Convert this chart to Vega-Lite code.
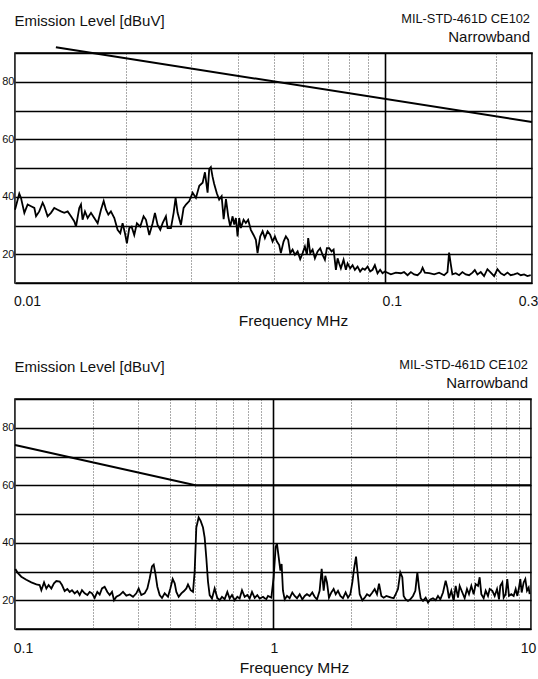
{
  "$schema": "https://vega.github.io/schema/vega-lite/v6.json",
  "background": "white",
  "padding": {"left": 0, "top": 12, "right": 0, "bottom": 0},
  "spacing": 28,
  "datasets": {
    "trace_low": [
      {"freq": 0.0100, "level": 35.5}, {"freq": 0.01027, "level": 41.1}, {"freq": 0.01038, "level": 39.6}, {"freq": 0.0106, "level": 34.4},
      {"freq": 0.01082, "level": 37.3}, {"freq": 0.01105, "level": 36.7}, {"freq": 0.01128, "level": 36.1}, {"freq": 0.0114, "level": 33.2},
      {"freq": 0.01163, "level": 34.9}, {"freq": 0.01188, "level": 37.9}, {"freq": 0.012, "level": 36.7}, {"freq": 0.01225, "level": 33.2},
      {"freq": 0.01251, "level": 34.4}, {"freq": 0.01277, "level": 36.1}, {"freq": 0.01304, "level": 35.5}, {"freq": 0.01331, "level": 34.9},
      {"freq": 0.01359, "level": 34.4}, {"freq": 0.01388, "level": 34.9}, {"freq": 0.01417, "level": 33.2}, {"freq": 0.01447, "level": 31.4},
      {"freq": 0.01462, "level": 29.6}, {"freq": 0.01492, "level": 36.1}, {"freq": 0.01508, "level": 37.3}, {"freq": 0.01523, "level": 32.0},
      {"freq": 0.01546, "level": 34.9}, {"freq": 0.01572, "level": 32.6}, {"freq": 0.01605, "level": 34.4}, {"freq": 0.01638, "level": 32.6},
      {"freq": 0.01673, "level": 30.8}, {"freq": 0.01708, "level": 35.5}, {"freq": 0.01737, "level": 38.5}, {"freq": 0.01762, "level": 35.5},
      {"freq": 0.01788, "level": 33.8}, {"freq": 0.01817, "level": 34.9}, {"freq": 0.01856, "level": 32.6}, {"freq": 0.01894, "level": 28.5},
      {"freq": 0.01926, "level": 27.3}, {"freq": 0.01954, "level": 30.8}, {"freq": 0.01983, "level": 27.3}, {"freq": 0.02007, "level": 23.8},
      {"freq": 0.02037, "level": 29.1}, {"freq": 0.02067, "level": 29.6}, {"freq": 0.02101, "level": 26.7}, {"freq": 0.02136, "level": 30.8},
      {"freq": 0.02181, "level": 29.6}, {"freq": 0.02227, "level": 33.2}, {"freq": 0.0226, "level": 32.0}, {"freq": 0.02307, "level": 26.7},
      {"freq": 0.02356, "level": 30.8}, {"freq": 0.0239, "level": 34.4}, {"freq": 0.0243, "level": 30.2}, {"freq": 0.02471, "level": 28.5},
      {"freq": 0.02507, "level": 30.8}, {"freq": 0.02559, "level": 33.2}, {"freq": 0.02586, "level": 29.1}, {"freq": 0.0264, "level": 29.1},
      {"freq": 0.02685, "level": 34.4}, {"freq": 0.02718, "level": 39.6}, {"freq": 0.02752, "level": 34.4}, {"freq": 0.0281, "level": 30.2},
      {"freq": 0.02857, "level": 36.1}, {"freq": 0.02899, "level": 37.3}, {"freq": 0.0296, "level": 38.5}, {"freq": 0.03022, "level": 41.4},
      {"freq": 0.03085, "level": 39.6}, {"freq": 0.0315, "level": 43.8}, {"freq": 0.03216, "level": 44.9}, {"freq": 0.03263, "level": 48.5},
      {"freq": 0.03317, "level": 41.4}, {"freq": 0.03351, "level": 49.6}, {"freq": 0.03385, "level": 50.3}, {"freq": 0.03421, "level": 47.0},
      {"freq": 0.03455, "level": 44.5}, {"freq": 0.03513, "level": 41.2}, {"freq": 0.03565, "level": 39.0}, {"freq": 0.0362, "level": 40.2},
      {"freq": 0.03666, "level": 32.2}, {"freq": 0.03719, "level": 39.2}, {"freq": 0.03772, "level": 33.2}, {"freq": 0.03819, "level": 29.6},
      {"freq": 0.03876, "level": 33.2}, {"freq": 0.03915, "level": 30.3}, {"freq": 0.03956, "level": 32.6}, {"freq": 0.03998, "level": 26.2},
      {"freq": 0.04038, "level": 32.6}, {"freq": 0.04081, "level": 29.1}, {"freq": 0.0415, "level": 32.0}, {"freq": 0.04209, "level": 30.9},
      {"freq": 0.0427, "level": 32.0}, {"freq": 0.04342, "level": 28.5}, {"freq": 0.04416, "level": 26.7}, {"freq": 0.0448, "level": 25.0},
      {"freq": 0.04527, "level": 20.4}, {"freq": 0.04603, "level": 26.2}, {"freq": 0.04672, "level": 28.0}, {"freq": 0.04739, "level": 25.6},
      {"freq": 0.04819, "level": 28.0}, {"freq": 0.04897, "level": 26.8}, {"freq": 0.04971, "level": 24.4}, {"freq": 0.05043, "level": 26.2},
      {"freq": 0.05107, "level": 24.4}, {"freq": 0.0518, "level": 23.2}, {"freq": 0.05235, "level": 20.4}, {"freq": 0.05323, "level": 24.4},
      {"freq": 0.054, "level": 26.2}, {"freq": 0.05478, "level": 25.0}, {"freq": 0.05548, "level": 20.4}, {"freq": 0.05631, "level": 21.6},
      {"freq": 0.05713, "level": 19.8}, {"freq": 0.0581, "level": 21.0}, {"freq": 0.05904, "level": 18.3}, {"freq": 0.05994, "level": 20.4},
      {"freq": 0.0608, "level": 22.7}, {"freq": 0.06156, "level": 19.8}, {"freq": 0.06206, "level": 25.6}, {"freq": 0.06284, "level": 20.4},
      {"freq": 0.06378, "level": 21.6}, {"freq": 0.0647, "level": 18.6}, {"freq": 0.0658, "level": 21.0}, {"freq": 0.06687, "level": 22.1},
      {"freq": 0.06788, "level": 19.8}, {"freq": 0.06886, "level": 18.1}, {"freq": 0.06972, "level": 22.1}, {"freq": 0.07073, "level": 22.1},
      {"freq": 0.07178, "level": 21.0}, {"freq": 0.07269, "level": 21.6}, {"freq": 0.07374, "level": 14.6}, {"freq": 0.07452, "level": 18.6},
      {"freq": 0.07526, "level": 16.8}, {"freq": 0.07606, "level": 15.1}, {"freq": 0.07735, "level": 18.1}, {"freq": 0.07846, "level": 14.6},
      {"freq": 0.0793, "level": 16.8}, {"freq": 0.08059, "level": 15.1}, {"freq": 0.08181, "level": 16.2}, {"freq": 0.08298, "level": 14.6},
      {"freq": 0.08438, "level": 15.7}, {"freq": 0.08575, "level": 14.0}, {"freq": 0.08705, "level": 15.1}, {"freq": 0.0883, "level": 14.6},
      {"freq": 0.08981, "level": 15.7}, {"freq": 0.09128, "level": 14.0}, {"freq": 0.09265, "level": 14.6}, {"freq": 0.09398, "level": 16.2},
      {"freq": 0.09557, "level": 13.4}, {"freq": 0.09712, "level": 14.6}, {"freq": 0.09858, "level": 13.4}, {"freq": 0.1, "level": 14.0},
      {"freq": 0.1038, "level": 13.0}, {"freq": 0.1071, "level": 13.6}, {"freq": 0.1105, "level": 13.4}, {"freq": 0.1127, "level": 13.8},
      {"freq": 0.1152, "level": 12.7}, {"freq": 0.1176, "level": 13.8}, {"freq": 0.12, "level": 13.0}, {"freq": 0.1226, "level": 12.7},
      {"freq": 0.1251, "level": 13.8}, {"freq": 0.1265, "level": 15.3}, {"freq": 0.1283, "level": 13.6}, {"freq": 0.1318, "level": 13.4},
      {"freq": 0.136, "level": 13.0}, {"freq": 0.1402, "level": 13.6}, {"freq": 0.1447, "level": 12.7}, {"freq": 0.1477, "level": 13.8},
      {"freq": 0.1492, "level": 20.6}, {"freq": 0.1508, "level": 16.5}, {"freq": 0.1523, "level": 13.0}, {"freq": 0.1555, "level": 13.4},
      {"freq": 0.1588, "level": 12.7}, {"freq": 0.1621, "level": 13.8}, {"freq": 0.1655, "level": 13.0}, {"freq": 0.169, "level": 12.7},
      {"freq": 0.1726, "level": 13.6}, {"freq": 0.1751, "level": 14.5}, {"freq": 0.178, "level": 13.0}, {"freq": 0.1817, "level": 13.8},
      {"freq": 0.1855, "level": 12.4}, {"freq": 0.1894, "level": 14.8}, {"freq": 0.1934, "level": 13.6}, {"freq": 0.1975, "level": 12.4},
      {"freq": 0.2016, "level": 14.8}, {"freq": 0.2059, "level": 13.4}, {"freq": 0.2102, "level": 12.7}, {"freq": 0.2146, "level": 13.6},
      {"freq": 0.219, "level": 12.7}, {"freq": 0.2236, "level": 13.0}, {"freq": 0.2284, "level": 13.4}, {"freq": 0.2331, "level": 12.7},
      {"freq": 0.238, "level": 13.0}, {"freq": 0.243, "level": 12.4}, {"freq": 0.248, "level": 12.7}
    ],
    "trace_high": [
      {"freq": 0.1003, "level": 30.9}, {"freq": 0.1027, "level": 29.4}, {"freq": 0.1058, "level": 28.2}, {"freq": 0.1106, "level": 27.1},
      {"freq": 0.1157, "level": 26.2}, {"freq": 0.121, "level": 25.5}, {"freq": 0.1246, "level": 25.3}, {"freq": 0.1265, "level": 23.5},
      {"freq": 0.1296, "level": 26.2}, {"freq": 0.1323, "level": 24.1}, {"freq": 0.135, "level": 25.3}, {"freq": 0.1383, "level": 24.1},
      {"freq": 0.1416, "level": 25.9}, {"freq": 0.1446, "level": 26.7}, {"freq": 0.149, "level": 26.5}, {"freq": 0.1521, "level": 25.3},
      {"freq": 0.1558, "level": 23.2}, {"freq": 0.1595, "level": 23.9}, {"freq": 0.1629, "level": 22.9}, {"freq": 0.1663, "level": 23.5},
      {"freq": 0.1703, "level": 22.4}, {"freq": 0.1744, "level": 23.2}, {"freq": 0.1781, "level": 21.8}, {"freq": 0.1818, "level": 23.5},
      {"freq": 0.1862, "level": 22.4}, {"freq": 0.1908, "level": 21.8}, {"freq": 0.1947, "level": 22.9}, {"freq": 0.1988, "level": 22.4},
      {"freq": 0.2036, "level": 20.8}, {"freq": 0.2085, "level": 22.9}, {"freq": 0.2129, "level": 22.0}, {"freq": 0.2174, "level": 24.1},
      {"freq": 0.2226, "level": 24.7}, {"freq": 0.228, "level": 22.9}, {"freq": 0.2328, "level": 21.8}, {"freq": 0.2377, "level": 22.9},
      {"freq": 0.242, "level": 20.0}, {"freq": 0.2471, "level": 21.2}, {"freq": 0.2545, "level": 21.8}, {"freq": 0.2622, "level": 22.9},
      {"freq": 0.2701, "level": 21.6}, {"freq": 0.2783, "level": 22.0}, {"freq": 0.2867, "level": 21.2}, {"freq": 0.2953, "level": 22.4},
      {"freq": 0.3015, "level": 24.1}, {"freq": 0.3087, "level": 21.8}, {"freq": 0.318, "level": 22.4}, {"freq": 0.3259, "level": 24.1},
      {"freq": 0.3327, "level": 27.6}, {"freq": 0.3396, "level": 31.8}, {"freq": 0.3448, "level": 32.4}, {"freq": 0.3499, "level": 29.4},
      {"freq": 0.3562, "level": 24.7}, {"freq": 0.3637, "level": 21.8}, {"freq": 0.3714, "level": 20.8}, {"freq": 0.3803, "level": 22.4},
      {"freq": 0.3918, "level": 21.2}, {"freq": 0.4, "level": 24.1}, {"freq": 0.4085, "level": 27.4}, {"freq": 0.4159, "level": 25.9},
      {"freq": 0.4221, "level": 22.9}, {"freq": 0.4309, "level": 21.2}, {"freq": 0.4413, "level": 22.4}, {"freq": 0.4519, "level": 23.2},
      {"freq": 0.4614, "level": 24.1}, {"freq": 0.4683, "level": 25.5}, {"freq": 0.4796, "level": 23.5}, {"freq": 0.4897, "level": 22.9},
      {"freq": 0.497, "level": 30.0}, {"freq": 0.5044, "level": 45.3}, {"freq": 0.515, "level": 48.8}, {"freq": 0.5243, "level": 47.6},
      {"freq": 0.5354, "level": 45.3}, {"freq": 0.5434, "level": 41.8}, {"freq": 0.5515, "level": 34.7}, {"freq": 0.5598, "level": 26.5},
      {"freq": 0.5682, "level": 21.8}, {"freq": 0.5801, "level": 20.6}, {"freq": 0.5941, "level": 24.1}, {"freq": 0.6084, "level": 20.8},
      {"freq": 0.6213, "level": 20.0}, {"freq": 0.6343, "level": 21.2}, {"freq": 0.6496, "level": 20.4}, {"freq": 0.6653, "level": 22.9},
      {"freq": 0.6792, "level": 20.6}, {"freq": 0.6936, "level": 21.8}, {"freq": 0.7103, "level": 20.0}, {"freq": 0.7273, "level": 21.2},
      {"freq": 0.7426, "level": 20.6}, {"freq": 0.7583, "level": 23.5}, {"freq": 0.7766, "level": 21.2}, {"freq": 0.7953, "level": 21.8},
      {"freq": 0.812, "level": 20.6}, {"freq": 0.8291, "level": 22.9}, {"freq": 0.8492, "level": 20.8}, {"freq": 0.8694, "level": 21.8},
      {"freq": 0.8877, "level": 20.6}, {"freq": 0.9147, "level": 21.2}, {"freq": 0.9284, "level": 20.7}, {"freq": 0.9423, "level": 20.4},
      {"freq": 0.9563, "level": 21.5}, {"freq": 0.9852, "level": 20.9}, {"freq": 1.006, "level": 28.0}, {"freq": 1.024, "level": 38.5},
      {"freq": 1.036, "level": 39.7}, {"freq": 1.052, "level": 35.0}, {"freq": 1.068, "level": 30.3}, {"freq": 1.08, "level": 32.6},
      {"freq": 1.093, "level": 23.3}, {"freq": 1.11, "level": 20.3}, {"freq": 1.133, "level": 21.5}, {"freq": 1.16, "level": 20.7},
      {"freq": 1.188, "level": 22.7}, {"freq": 1.213, "level": 21.5}, {"freq": 1.239, "level": 20.7}, {"freq": 1.269, "level": 22.1},
      {"freq": 1.299, "level": 20.3}, {"freq": 1.327, "level": 21.5}, {"freq": 1.354, "level": 22.1}, {"freq": 1.387, "level": 21.5},
      {"freq": 1.42, "level": 22.7}, {"freq": 1.45, "level": 21.2}, {"freq": 1.481, "level": 20.3}, {"freq": 1.516, "level": 23.3},
      {"freq": 1.544, "level": 30.9}, {"freq": 1.572, "level": 23.3}, {"freq": 1.595, "level": 28.5}, {"freq": 1.619, "level": 26.2},
      {"freq": 1.648, "level": 20.9}, {"freq": 1.683, "level": 22.7}, {"freq": 1.718, "level": 23.9}, {"freq": 1.75, "level": 22.1},
      {"freq": 1.786, "level": 23.3}, {"freq": 1.824, "level": 21.5}, {"freq": 1.867, "level": 20.7}, {"freq": 1.912, "level": 22.7},
      {"freq": 1.953, "level": 20.9}, {"freq": 1.994, "level": 22.1}, {"freq": 2.03, "level": 26.2}, {"freq": 2.061, "level": 30.9},
      {"freq": 2.098, "level": 35.2}, {"freq": 2.136, "level": 28.0}, {"freq": 2.168, "level": 22.1}, {"freq": 2.22, "level": 20.0},
      {"freq": 2.267, "level": 20.9}, {"freq": 2.314, "level": 22.1}, {"freq": 2.37, "level": 21.5}, {"freq": 2.427, "level": 22.7},
      {"freq": 2.478, "level": 23.9}, {"freq": 2.53, "level": 22.1}, {"freq": 2.576, "level": 25.8}, {"freq": 2.63, "level": 21.5},
      {"freq": 2.685, "level": 20.9}, {"freq": 2.75, "level": 21.5}, {"freq": 2.816, "level": 21.2}, {"freq": 2.875, "level": 20.9},
      {"freq": 2.936, "level": 20.7}, {"freq": 2.989, "level": 22.1}, {"freq": 3.051, "level": 23.9}, {"freq": 3.115, "level": 29.7},
      {"freq": 3.171, "level": 28.0}, {"freq": 3.209, "level": 21.5}, {"freq": 3.267, "level": 20.3}, {"freq": 3.336, "level": 19.8},
      {"freq": 3.406, "level": 20.3}, {"freq": 3.488, "level": 21.5}, {"freq": 3.562, "level": 23.3}, {"freq": 3.626, "level": 29.7},
      {"freq": 3.681, "level": 24.4}, {"freq": 3.736, "level": 20.7}, {"freq": 3.814, "level": 19.8}, {"freq": 3.906, "level": 20.9},
      {"freq": 3.988, "level": 19.2}, {"freq": 4.072, "level": 20.3}, {"freq": 4.17, "level": 20.7}, {"freq": 4.27, "level": 20.0},
      {"freq": 4.36, "level": 21.5}, {"freq": 4.452, "level": 20.3}, {"freq": 4.56, "level": 22.7}, {"freq": 4.669, "level": 26.8},
      {"freq": 4.739, "level": 24.4}, {"freq": 4.81, "level": 20.7}, {"freq": 4.911, "level": 23.3}, {"freq": 5.015, "level": 19.8},
      {"freq": 5.105, "level": 25.0}, {"freq": 5.213, "level": 20.9}, {"freq": 5.29, "level": 25.0}, {"freq": 5.418, "level": 22.7},
      {"freq": 5.532, "level": 20.7}, {"freq": 5.648, "level": 23.9}, {"freq": 5.75, "level": 22.1}, {"freq": 5.871, "level": 25.0},
      {"freq": 5.995, "level": 22.1}, {"freq": 6.103, "level": 25.6}, {"freq": 6.232, "level": 25.0}, {"freq": 6.324, "level": 28.0},
      {"freq": 6.419, "level": 22.1}, {"freq": 6.554, "level": 20.7}, {"freq": 6.673, "level": 23.3}, {"freq": 6.813, "level": 21.5},
      {"freq": 6.916, "level": 23.9}, {"freq": 7.083, "level": 23.3}, {"freq": 7.232, "level": 21.5}, {"freq": 7.385, "level": 23.9},
      {"freq": 7.516, "level": 20.3}, {"freq": 7.605, "level": 25.0}, {"freq": 7.742, "level": 26.2}, {"freq": 7.835, "level": 20.9},
      {"freq": 7.974, "level": 22.1}, {"freq": 8.093, "level": 27.4}, {"freq": 8.215, "level": 21.5}, {"freq": 8.388, "level": 22.1},
      {"freq": 8.566, "level": 21.5}, {"freq": 8.721, "level": 23.9}, {"freq": 8.852, "level": 21.5}, {"freq": 8.984, "level": 24.4},
      {"freq": 9.092, "level": 27.4}, {"freq": 9.201, "level": 22.7}, {"freq": 9.367, "level": 26.2}, {"freq": 9.506, "level": 27.4},
      {"freq": 9.649, "level": 23.3}, {"freq": 9.795, "level": 24.4}, {"freq": 9.881, "level": 22.1}
    ],
    "limit_low": [
      {"freq": 0.0129, "level": 92.0}, {"freq": 0.25, "level": 66.0}
    ],
    "limit_high": [
      {"freq": 0.1, "level": 74.0}, {"freq": 0.5, "level": 60.0}, {"freq": 10, "level": 60.0}
    ]
  },
  "vconcat": [
    {
      "width": 517,
      "height": 230,
      "title": {
        "text": "MIL-STD-461D CE102",
        "subtitle": "Narrowband",
        "anchor": "end",
        "frame": "group",
        "fontSize": 12.8,
        "subtitleFontSize": 15,
        "fontWeight": "normal",
        "font": "Liberation Sans",
        "subtitleFont": "Liberation Sans",
        "color": "#111",
        "subtitleColor": "#111",
        "offset": -32,
        "subtitlePadding": 4,
        "dx": -2
      },
      "layer": [
        {
          "data": {"name": "trace_low"},
          "mark": {"type": "line", "color": "#000", "strokeWidth": 1.8},
          "encoding": {
            "x": {
              "field": "freq", "type": "quantitative", "title": "Frequency MHz",
              "scale": {"type": "log", "domain": [0.01, 0.25], "nice": false},
              "axis": {
                "values": [0.01, 0.02, 0.03, 0.04, 0.05, 0.06, 0.07, 0.08, 0.09, 0.1, 0.2, 0.25],
                "tickCount": 60,
                "labelExpr": "datum.value == 0.01 ? '0.01' : datum.value == 0.1 ? '0.1' : datum.value == 0.25 ? '0.3' : ''",
                "labelOffset": {"condition": [{"test": "datum.value == 0.01", "value": 12}, {"test": "datum.value == 0.1", "value": 7}], "value": -4},
                "grid": true,
                "gridDash": {"condition": {"test": "datum.value == 0.1 || datum.value == 0.01 || datum.value == 0.25", "value": []}, "value": [1, 2]},
                "gridColor": {"condition": {"test": "datum.value == 0.1", "value": "#000"}, "value": "#555"},
                "gridWidth": {"condition": {"test": "datum.value == 0.1", "value": 1.6}, "value": 1},
                "labelPadding": 11,
                "labelFontSize": 14,
                "titleFontSize": 15.5,
                "titlePadding": 5,
                "titleX": 278
              }
            },
            "y": {
              "field": "level", "type": "quantitative", "title": "Emission Level [dBuV]",
              "scale": {"domain": [10, 90], "nice": false, "zero": false},
              "axis": {
                "values": [10, 20, 30, 40, 50, 60, 70, 80, 90],
                "tickCount": 60,
                "labelExpr": "datum.value % 20 == 0 ? datum.label : ''",
                "grid": true,
                "gridColor": "#000",
                "gridWidth": 1.6,
                "labelFontSize": 11,
                "labelPadding": 1,
                "titleAngle": 0,
                "titleAlign": "left",
                "titleBaseline": "alphabetic",
                "titleX": -1,
                "titleY": -28,
                "titleFontSize": 15
              }
            }
          }
        },
        {
          "data": {"name": "limit_low"},
          "mark": {"type": "line", "color": "#000", "strokeWidth": 2},
          "encoding": {
            "x": {"field": "freq", "type": "quantitative", "title": "Frequency MHz"},
            "y": {"field": "level", "type": "quantitative", "title": "Emission Level [dBuV]"}
          }
        }
      ]
    },
    {
      "width": 516,
      "height": 230,
      "title": {
        "text": "MIL-STD-461D CE102",
        "subtitle": "Narrowband",
        "anchor": "end",
        "frame": "group",
        "fontSize": 12.8,
        "subtitleFontSize": 15,
        "fontWeight": "normal",
        "font": "Liberation Sans",
        "subtitleFont": "Liberation Sans",
        "color": "#111",
        "subtitleColor": "#111",
        "offset": -32,
        "subtitlePadding": 4,
        "dx": -3
      },
      "layer": [
        {
          "data": {"name": "trace_high"},
          "mark": {"type": "line", "color": "#000", "strokeWidth": 1.8},
          "encoding": {
            "x": {
              "field": "freq", "type": "quantitative", "title": "Frequency MHz",
              "scale": {"type": "log", "domain": [0.1, 10], "nice": false},
              "axis": {
                "values": [0.1, 0.2, 0.3, 0.4, 0.5, 0.6, 0.7, 0.8, 0.9, 1, 2, 3, 4, 5, 6, 7, 8, 9, 10],
                "tickCount": 60,
                "labelExpr": "datum.value == 0.1 ? '0.1' : datum.value == 1 ? '1' : datum.value == 10 ? '10' : ''",
                "labelOffset": {"condition": [{"test": "datum.value == 0.1", "value": 8}, {"test": "datum.value == 1", "value": 1}], "value": -3},
                "grid": true,
                "gridDash": {"condition": {"test": "datum.value == 1 || datum.value == 0.1 || datum.value == 10", "value": []}, "value": [1, 2]},
                "gridColor": {"condition": {"test": "datum.value == 1", "value": "#000"}, "value": "#555"},
                "gridWidth": {"condition": {"test": "datum.value == 1", "value": 1.6}, "value": 1},
                "labelPadding": 12,
                "labelFontSize": 14,
                "titleFontSize": 15.5,
                "titlePadding": 5,
                "titleX": 279
              }
            },
            "y": {
              "field": "level", "type": "quantitative", "title": "Emission Level [dBuV]",
              "scale": {"domain": [10, 90], "nice": false, "zero": false},
              "axis": {
                "values": [10, 20, 30, 40, 50, 60, 70, 80, 90],
                "tickCount": 60,
                "labelExpr": "datum.value % 20 == 0 ? datum.label : ''",
                "grid": true,
                "gridColor": "#000",
                "gridWidth": 1.6,
                "labelFontSize": 11,
                "labelPadding": 1,
                "titleAngle": 0,
                "titleAlign": "left",
                "titleBaseline": "alphabetic",
                "titleX": -1,
                "titleY": -28,
                "titleFontSize": 15
              }
            }
          }
        },
        {
          "data": {"name": "limit_high"},
          "mark": {"type": "line", "color": "#000", "strokeWidth": 2},
          "encoding": {
            "x": {"field": "freq", "type": "quantitative", "title": "Frequency MHz"},
            "y": {"field": "level", "type": "quantitative", "title": "Emission Level [dBuV]"}
          }
        }
      ]
    }
  ],
  "config": {
    "font": "Liberation Sans",
    "view": {"stroke": "#000", "strokeWidth": 1.6},
    "axis": {
      "labelFont": "Liberation Sans",
      "labelColor": "#111",
      "titleFont": "Liberation Sans",
      "titleColor": "#111",
      "titleFontWeight": "normal",
      "ticks": false,
      "domain": false,
      "gridOpacity": 1,
      "labelOverlap": false,
      "labelFlush": false,
      "labelBound": false
    }
  }
}
